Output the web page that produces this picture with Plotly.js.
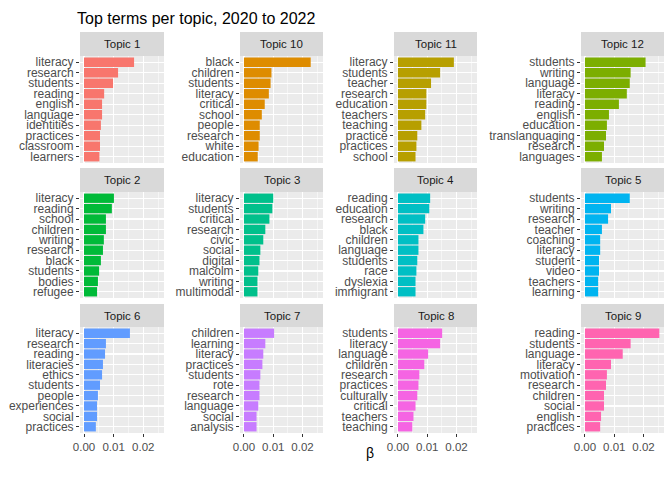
<!DOCTYPE html>
<html>
<head>
<meta charset="utf-8">
<script src="https://cdn.plot.ly/plotly-3.0.1.min.js"></script>
<style>body{margin:0;} #graph{width:672px;height:480px;}</style>
</head>
<body>
<div id="graph"></div>
<script>
// topic order as facets appear (alphabetical factor order)
var topics = ["Topic 1","Topic 10","Topic 11","Topic 12","Topic 2","Topic 3","Topic 4","Topic 5","Topic 6","Topic 7","Topic 8","Topic 9"];
var colors = ["#F8766D","#DE8C00","#B79F00","#7CAE00","#00BA38","#00C08B","#00BFC4","#00B4F0","#619CFF","#C77CFF","#F564E3","#FF64B0"];

var terms1 = ["literacy","research","students","reading","english","language","identities","practices","classroom","learners"];
var beta1 = [0.0169,0.0115,0.0098,0.0068,0.0061,0.0061,0.0057,0.0054,0.0054,0.0052];
var terms10 = ["black","children","students","literacy","critical","school","people","research","white","education"];
var beta10 = [0.0228,0.0094,0.0091,0.0085,0.0071,0.0061,0.0054,0.0054,0.0050,0.0047];
var terms11 = ["literacy","students","teacher","research","education","teachers","teaching","practice","practices","school"];
var beta11 = [0.0191,0.0144,0.0113,0.0097,0.0097,0.0093,0.0080,0.0066,0.0063,0.0060];
var terms12 = ["students","writing","language","literacy","reading","english","education","translanguaging","research","languages"];
var beta12 = [0.0207,0.0156,0.0153,0.0143,0.0116,0.0082,0.0075,0.0072,0.0065,0.0058];
var terms2 = ["literacy","reading","school","children","writing","research","black","students","bodies","refugee"];
var beta2 = [0.0101,0.0094,0.0074,0.0074,0.0067,0.0064,0.0057,0.0051,0.0047,0.0044];
var terms3 = ["literacy","students","critical","research","civic","social","digital","malcolm","writing","multimodal"];
var beta3 = [0.0100,0.0097,0.0087,0.0073,0.0066,0.0056,0.0053,0.0049,0.0046,0.0046];
var terms4 = ["reading","education","research","black","children","language","students","race","dyslexia","immigrant"];
var beta4 = [0.0110,0.0107,0.0093,0.0087,0.0070,0.0070,0.0066,0.0063,0.0060,0.0060];
var terms5 = ["students","writing","research","teacher","coaching","literacy","student","video","teachers","learning"];
var beta5 = [0.0153,0.0089,0.0079,0.0058,0.0052,0.0052,0.0048,0.0048,0.0045,0.0045];
var terms6 = ["literacy","research","reading","literacies","ethics","students","people","experiences","social","practices"];
var beta6 = [0.0155,0.0074,0.0071,0.0064,0.0061,0.0054,0.0047,0.0044,0.0044,0.0040];
var terms7 = ["children","learning","literacy","practices","students","rote","research","language","social","analysis"];
var beta7 = [0.0103,0.0073,0.0066,0.0063,0.0056,0.0053,0.0053,0.0049,0.0043,0.0043];
var terms8 = ["students","literacy","language","children","research","practices","culturally","critical","teachers","teaching"];
var beta8 = [0.0151,0.0144,0.0103,0.0090,0.0073,0.0070,0.0066,0.0060,0.0053,0.0049];
var terms9 = ["reading","students","language","literacy","motivation","research","children","social","english","practices"];
var beta9 = [0.0254,0.0156,0.0129,0.0089,0.0075,0.0072,0.0065,0.0065,0.0055,0.0052];

var allTerms = [terms1,terms10,terms11,terms12,terms2,terms3,terms4,terms5,terms6,terms7,terms8,terms9];
var allBeta = [beta1,beta10,beta11,beta12,beta2,beta3,beta4,beta5,beta6,beta7,beta8,beta9];

var W = 672, H = 480;
var colX = [[80,164],[240,323],[394,477],[581,664]];
var rowY = [[32,56,163],[168,192,298],[304,327,433]]; // strip top, panel top, panel bottom

var layout = {
    width: W, height: H,
    margin: {l:0, r:0, t:0, b:0},
    paper_bgcolor: "white",
    plot_bgcolor: "#EBEBEB",
    showlegend: false,
    bargap: 0.1,
    font: {family: "Liberation Sans, Arial, sans-serif", color: "#4D4D4D"},
    title: {text: "Top terms per topic, 2020 to 2022", x: 77/W, xanchor: "left", y: 1 - 18/H, yanchor: "middle",
        font: {size: 16, color: "black"}},
    shapes: [],
    annotations: [{text: "β", xref: "paper", yref: "paper", x: 370/W, y: 1 - 463/H, showarrow: false,
        font: {size: 14, color: "black"}}]
};

var data = [];
for (var i = 0; i < 12; i++) {
    var r = Math.floor(i / 4), c = i % 4;
    var n = i + 1;
    var xa = "xaxis" + (n === 1 ? "" : n), ya = "yaxis" + (n === 1 ? "" : n);
    data.push({
        type: "bar", orientation: "h",
        x: allBeta[i], y: allTerms[i],
        xaxis: "x" + (n === 1 ? "" : n), yaxis: "y" + (n === 1 ? "" : n),
        marker: {color: colors[i]},
        hoverinfo: "x+y"
    });
    layout[xa] = {
        domain: [colX[c][0] / W, colX[c][1] / W],
        anchor: "y" + (n === 1 ? "" : n),
        range: [-0.00135, 0.027],
        tickvals: [0, 0.01, 0.02],
        ticktext: ["0.00", "0.01", "0.02"],
        showticklabels: r === 2,
        ticks: r === 2 ? "outside" : "",
        ticklen: 3, tickcolor: "#333333",
        tickfont: {size: 11.5, color: "#4D4D4D"},
        showgrid: true, gridcolor: "white", gridwidth: 1.1,
        minor: {dtick: 0.005, tick0: 0.005, showgrid: true, gridcolor: "white", gridwidth: 0.5},
        zeroline: false, showline: false, fixedrange: true
    };
    layout[ya] = {
        domain: [1 - rowY[r][2] / H, 1 - rowY[r][1] / H],
        anchor: "x" + (n === 1 ? "" : n),
        type: "category",
        categoryorder: "array",
        categoryarray: allTerms[i].slice().reverse(),
        tickmode: "array",
        tickvals: allTerms[i],
        ticktext: allTerms[i],
        range: [-0.6, 9.6],
        ticks: "outside", ticklen: 3, tickcolor: "#333333",
        tickfont: {size: 12, color: "#4D4D4D"},
        showgrid: true, gridcolor: "white", gridwidth: 1.1,
        zeroline: false, showline: false, fixedrange: true
    };
    layout.shapes.push({type: "rect", xref: "paper", yref: "paper", layer: "below",
        x0: colX[c][0] / W, x1: colX[c][1] / W, y0: 1 - rowY[r][1] / H, y1: 1 - rowY[r][0] / H,
        fillcolor: "#D9D9D9", line: {width: 0}});
    layout.annotations.push({text: topics[i], xref: "paper", yref: "paper", showarrow: false,
        x: (colX[c][0] + colX[c][1]) / 2 / W, y: 1 - (rowY[r][0] + rowY[r][1]) / 2 / H,
        xanchor: "center", yanchor: "middle", font: {size: 11.5, color: "#1A1A1A"}});
}

Plotly.newPlot("graph", data, layout, {displayModeBar: false, staticPlot: true});
</script>
</body>
</html>
